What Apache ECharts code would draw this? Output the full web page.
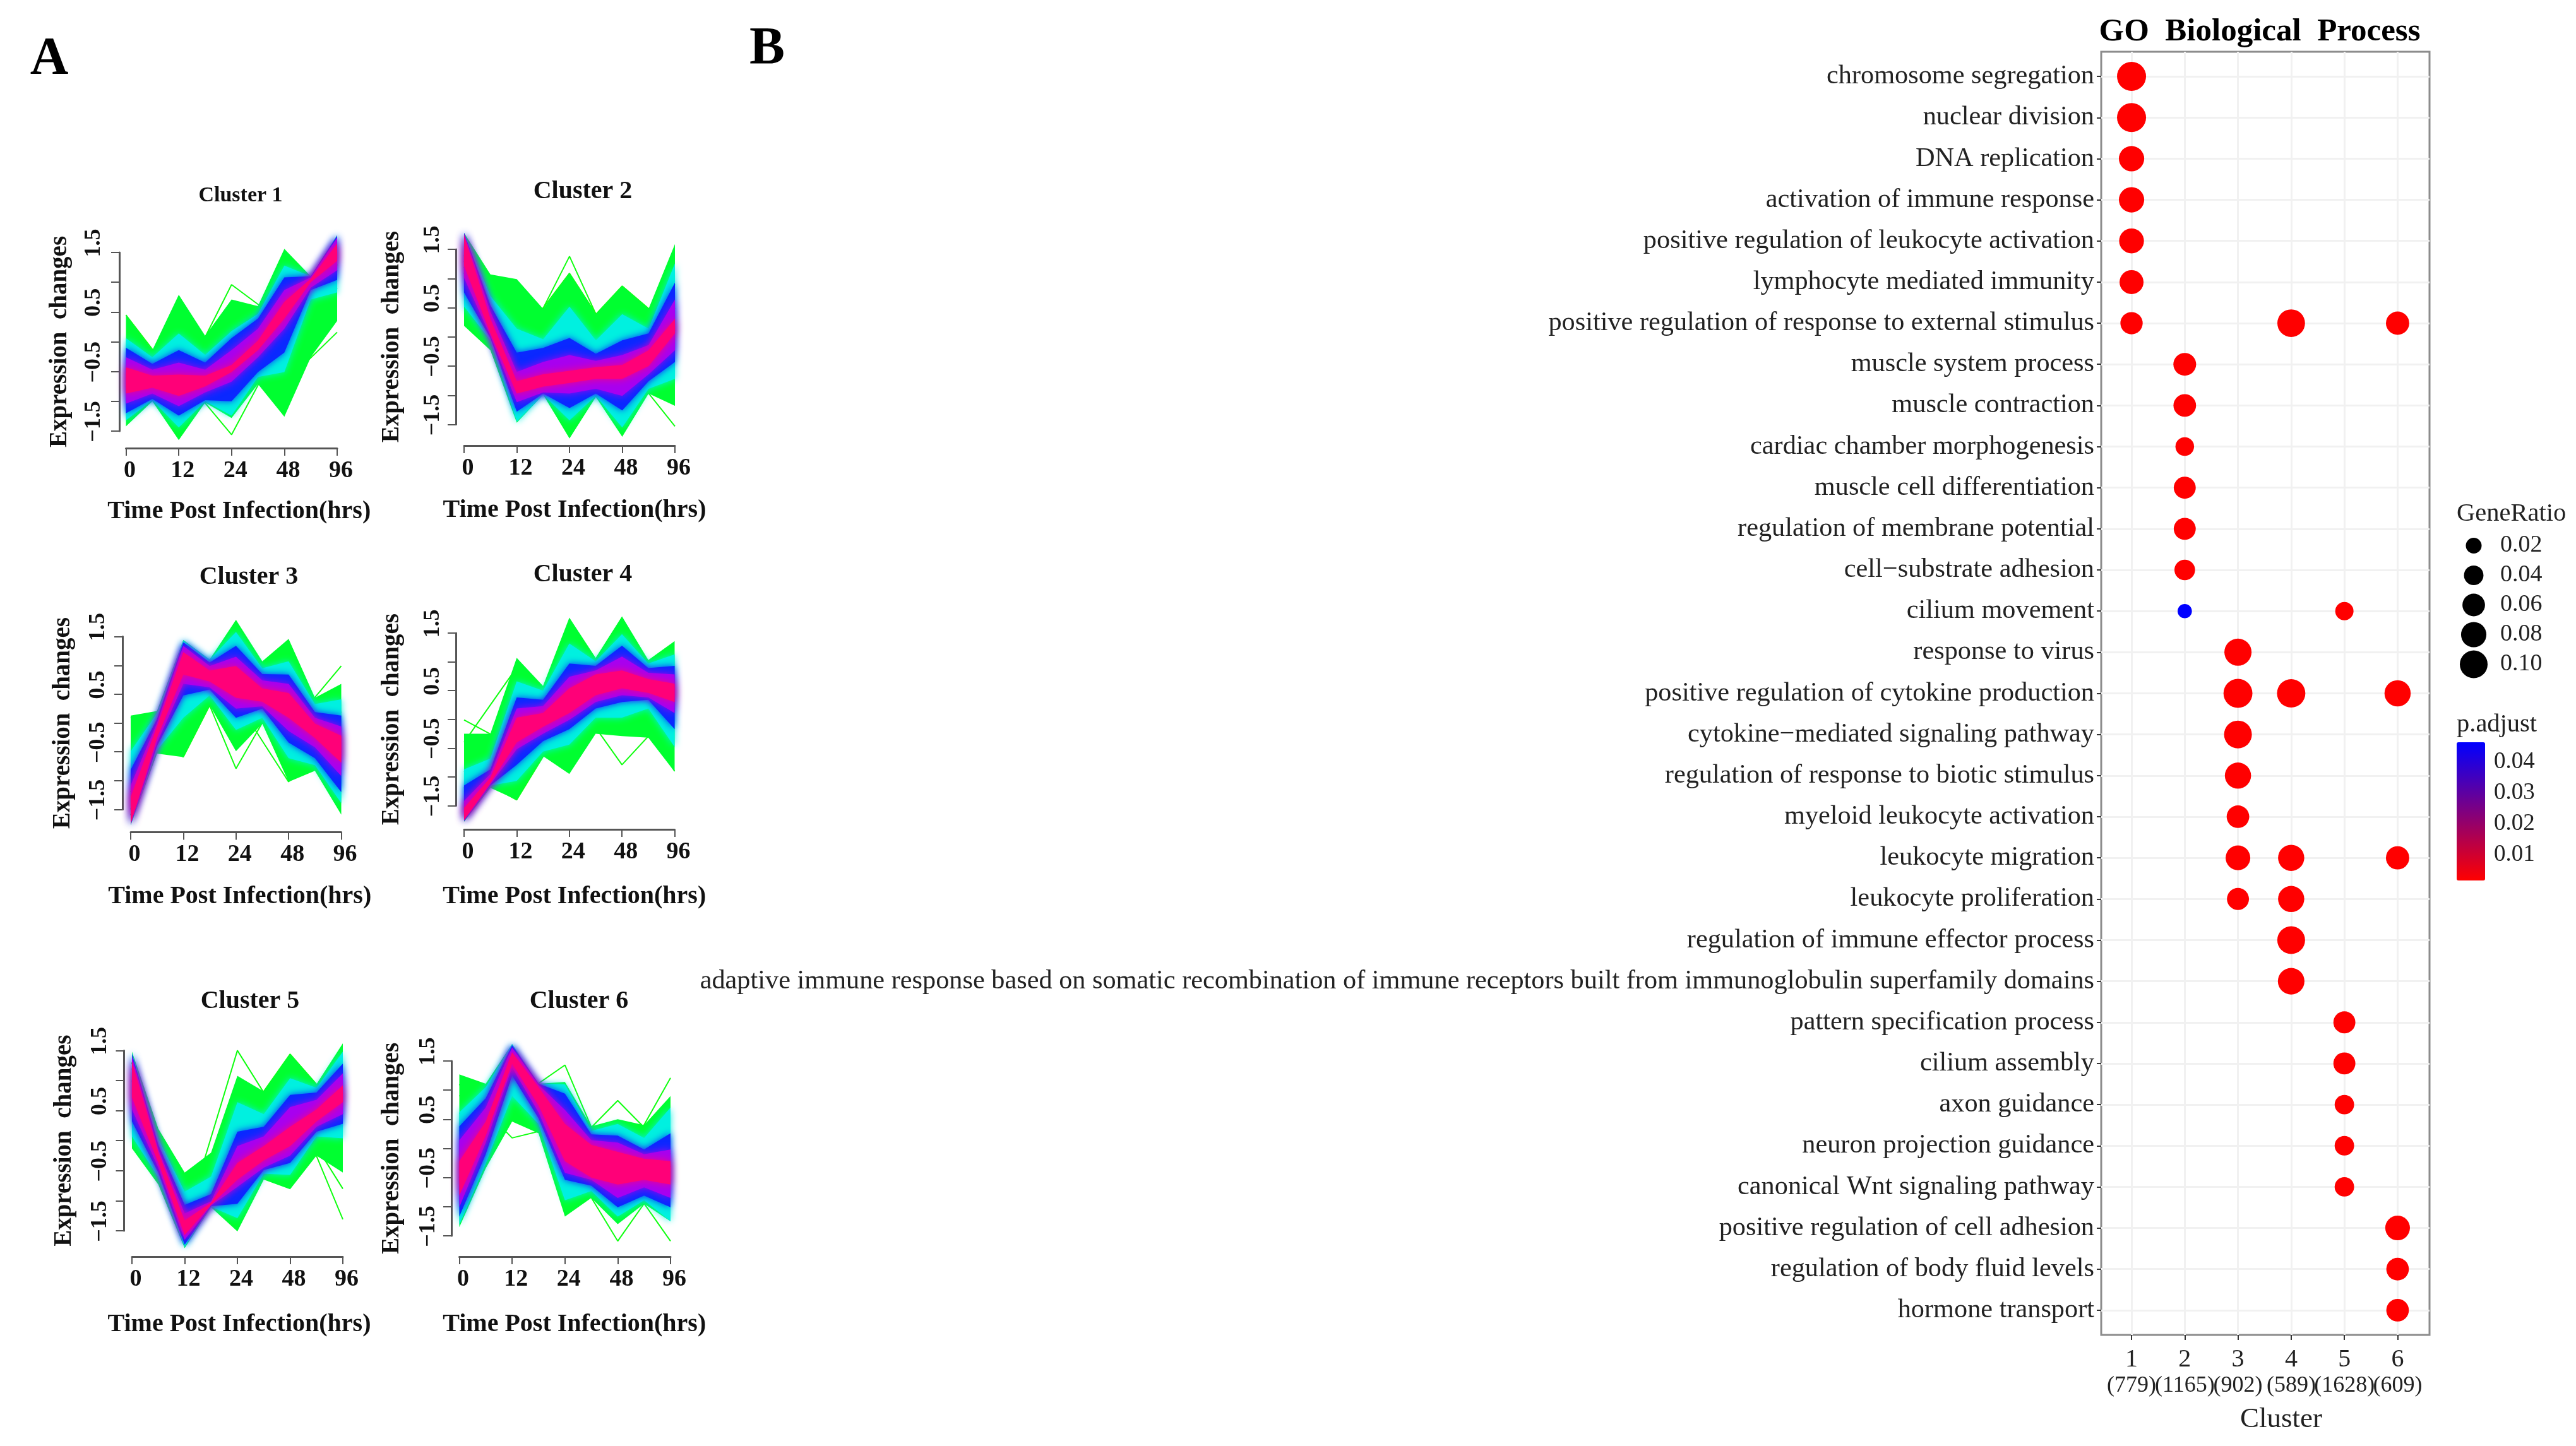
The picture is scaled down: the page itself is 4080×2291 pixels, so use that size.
<!DOCTYPE html>
<html><head><meta charset="utf-8"><style>html,body{margin:0;padding:0;background:#fff}#c{width:4080px;height:2291px}</style>
<script src="https://cdn.jsdelivr.net/npm/echarts@6/dist/echarts.min.js"></script></head><body><div id="c"></div>
<script>
const timeLabels=['0','12','24','48','96'];
// band edges, outer (green) to core (pink), sampled every half step of the time axis
const c1Upper=[[0.45,-0.14,0.79,0.10,0.71,0.60,1.56,1.10,1.79],[0.06,-0.26,0.14,-0.22,0.18,0.47,1.28,1.10,1.79],[-0.10,-0.37,-0.14,-0.35,0.06,0.39,1.08,1.10,1.78],[-0.26,-0.47,-0.35,-0.47,-0.14,0.22,0.87,1.08,1.75],[-0.43,-0.57,-0.55,-0.57,-0.39,0.02,0.67,1.06,1.65]];
const c1Lower=[[-1.42,-1.0,-1.65,-1.02,-1.28,-0.71,-1.26,-0.26,0.35],[-1.32,-0.98,-1.44,-1.0,-1.24,-0.59,-0.51,0.71,0.83],[-1.20,-0.96,-1.24,-0.98,-1.0,-0.51,-0.18,0.87,1.04],[-1.04,-0.87,-1.08,-0.85,-0.67,-0.26,0.22,0.91,1.20],[-0.87,-0.77,-0.91,-0.75,-0.51,-0.14,0.39,1.00,1.36]];
const c2Upper=[[1.78,1.07,0.99,0.48,1.09,0.39,0.87,0.48,1.59],[1.78,0.70,0.14,-0.04,0.52,-0.06,0.39,0.14,1.26],[1.78,0.54,-0.27,-0.19,-0.02,-0.29,-0.06,0.06,0.93],[1.77,0.43,-0.60,-0.43,-0.31,-0.41,-0.31,-0.14,0.64],[1.74,0.31,-0.76,-0.64,-0.58,-0.52,-0.48,-0.23,0.31]];
const c2Lower=[[0.19,-0.23,-1.47,-0.99,-1.74,-1.03,-1.71,-0.97,-1.18],[0.52,-0.06,-1.45,-0.99,-1.43,-1.01,-1.55,-0.89,-0.72],[0.76,-0.02,-1.28,-0.97,-1.22,-0.97,-1.26,-0.76,-0.43],[1.01,0.02,-1.12,-0.95,-0.97,-0.89,-1.01,-0.64,-0.23],[1.22,0.06,-0.97,-0.85,-0.79,-0.72,-0.72,-0.50,0.06]];
const c3Upper=[[0.13,0.21,1.44,1.10,1.79,1.07,1.46,0.44,0.68],[-0.49,0.17,1.43,1.10,1.58,0.95,1.07,0.33,0.41],[-0.81,0.07,1.40,1.05,1.34,0.85,0.84,0.19,0.13],[-1.08,0.0,1.34,0.99,1.15,0.74,0.68,0.09,-0.06],[-1.28,-0.06,1.23,0.91,0.99,0.60,0.52,-0.01,-0.22]];
const c3Lower=[[-1.77,-0.53,-0.59,0.31,-0.49,-0.01,-1.02,-0.83,-1.59],[-1.77,-0.47,0.09,0.48,-0.12,0.09,-0.61,-0.73,-1.39],[-1.76,-0.40,0.48,0.58,0.09,0.25,-0.34,-0.61,-1.20],[-1.75,-0.34,0.68,0.62,0.25,0.29,-0.14,-0.42,-0.92],[-1.75,-0.26,0.84,0.72,0.44,0.37,0.09,-0.26,-0.69]];
const c4Upper=[[-0.25,-0.25,1.07,0.58,1.77,1.07,1.79,1.03,1.36],[-0.87,-0.68,0.66,0.50,1.32,1.01,1.48,0.97,1.13],[-1.15,-0.87,0.38,0.34,0.97,0.93,1.28,0.89,0.93],[-1.42,-0.95,0.19,0.23,0.74,0.85,1.09,0.81,0.78],[-1.54,-1.01,0.03,0.11,0.54,0.78,0.85,0.70,0.62]];
const c4Lower=[[-1.78,-1.19,-1.40,-0.64,-0.95,-0.25,-0.29,-0.32,-0.91],[-1.77,-1.15,-1.07,-0.56,-0.44,0.03,0.03,0.19,-0.48],[-1.77,-1.15,-0.79,-0.38,-0.17,0.19,0.30,0.34,-0.17],[-1.76,-1.13,-0.52,-0.25,-0.01,0.30,0.42,0.38,0.11],[-1.75,-1.11,-0.40,-0.13,0.11,0.42,0.54,0.46,0.30]];
const c5Upper=[[1.48,0.20,-0.53,-0.20,1.08,0.82,1.44,0.94,1.62],[1.46,0.03,-0.85,-0.60,0.64,0.44,1.04,0.88,1.48],[1.44,-0.07,-1.07,-0.89,0.15,0.23,0.76,0.80,1.28],[1.40,-0.15,-1.21,-1.01,-0.09,0.07,0.56,0.68,1.12],[1.32,-0.19,-1.33,-1.03,-0.37,-0.09,0.23,0.52,0.92]];
const c5Lower=[[-0.13,-0.73,-1.79,-1.11,-1.51,-0.65,-0.81,-0.25,-0.53],[0.07,-0.61,-1.77,-1.10,-1.29,-0.55,-0.57,0.07,0.04],[0.32,-0.53,-1.73,-1.09,-1.05,-0.49,-0.37,0.15,0.28],[0.52,-0.45,-1.65,-1.08,-0.77,-0.45,-0.25,0.23,0.44],[0.72,-0.37,-1.57,-1.07,-0.65,-0.33,-0.09,0.32,0.64]];
const c6Upper=[[1.27,1.11,1.79,1.11,1.14,0.38,0.50,0.40,0.90],[0.62,1.05,1.79,1.11,1.10,0.30,0.42,0.18,0.70],[0.38,0.86,1.77,1.11,0.94,0.24,0.22,-0.02,0.26],[0.14,0.70,1.73,1.09,0.66,0.14,0.10,-0.10,-0.02],[-0.22,0.46,1.65,1.05,0.42,0.06,-0.06,-0.18,-0.22]];
const c6Lower=[[-1.35,-0.34,0.46,0.26,-1.17,-0.85,-1.30,-0.95,-1.25],[-1.31,-0.26,0.90,0.42,-0.89,-0.73,-1.17,-0.89,-1.25],[-1.17,-0.10,1.25,0.52,-0.54,-0.64,-1.01,-0.81,-1.01],[-1.01,0.10,1.39,0.62,-0.42,-0.54,-0.85,-0.67,-0.85],[-0.81,0.22,1.45,0.74,-0.22,-0.50,-0.62,-0.54,-0.62]];
// stray single profiles
const c1Strays=[[-0.6,-0.8,0.96,0.3,0.9],[-0.9,-0.5,-1.56,0.1,1.2],[-0.6,-1.0,-0.2,-0.7,0.16],[0.45,-0.7,-0.5,-0.1,1.3]];
const c2Strays=[[1.3,-0.4,1.38,-0.6,0.5],[1.4,-0.1,1.09,-0.3,0.9],[1.1,-0.8,-0.5,-0.4,-1.53],[1.2,-0.4,-0.1,0.87,0.1]];
const c3Strays=[[-1.6,1.2,0.9,-0.1,0.99],[-1.5,1.4,-0.79,0.8,-0.5],[0.1,-0.59,1.2,0.3,-0.3],[-1.2,1.0,0.4,-1.02,0.2]];
const c4Strays=[[-0.01,-0.5,0.6,0.9,0.5],[-1.2,0.3,0.5,-0.79,0.2],[-0.9,-1.4,0.1,0.5,-0.9],[-0.4,0.9,-0.9,0.6,0.4]];
const c5Strays=[[1.3,-1.4,1.5,0.1,0.4],[1.2,-1.1,0.2,1.44,0.44],[1.3,-1.4,0.0,0.8,-1.31],[1.0,-1.3,-0.5,0.6,-0.8]];
const c6Strays=[[1.1,0.18,0.4,-0.5,-0.8],[0.3,1.4,-0.1,0.82,-0.1],[-0.5,1.2,-0.6,-0.3,-1.59],[0.9,1.2,0.1,-0.4,1.21],[0.6,0.8,1.43,-0.7,-0.3],[0.3,1.3,-0.1,-1.59,-0.3]];
const clusterUpper=[c1Upper,c2Upper,c3Upper,c4Upper,c5Upper,c6Upper];
const clusterLower=[c1Lower,c2Lower,c3Lower,c4Lower,c5Lower,c6Lower];
const clusterStrays=[c1Strays,c2Strays,c3Strays,c4Strays,c5Strays,c6Strays];
const bandColors=['#00ff30','#00f0e0','#0a28ff','#a800f0','#ff0078'];
const bandBlur=[0,12,12,14,14];
const panelTitles=['Cluster 1','Cluster 2','Cluster 3','Cluster 4','Cluster 5','Cluster 6'];
const rowLabels=['chromosome segregation','nuclear division','DNA replication','activation of immune response','positive regulation of leukocyte activation','lymphocyte mediated immunity','positive regulation of response to external stimulus','muscle system process','muscle contraction','cardiac chamber morphogenesis','muscle cell differentiation','regulation of membrane potential','cell\u2212substrate adhesion','cilium movement','response to virus','positive regulation of cytokine production','cytokine\u2212mediated signaling pathway','regulation of response to biotic stimulus','myeloid leukocyte activation','leukocyte migration','leukocyte proliferation','regulation of immune effector process','adaptive immune response based on somatic recombination of immune receptors built from immunoglobulin superfamily domains','pattern specification process','cilium assembly','axon guidance','neuron projection guidance','canonical Wnt signaling pathway','positive regulation of cell adhesion','regulation of body fluid levels','hormone transport'];
const clusterTicks=[1,2,3,4,5,6];
const clusterTicksOdd=[1,3,5];
const clusterTicksEven=[2,4,6];
const clusterCounts=['(779)','(1165)','(902)','(589)','(1628)','(609)'];
// [cluster, row index, GeneRatio, p.adjust]
const dots=[[1,0,0.111,0.001],[1,1,0.111,0.001],[1,2,0.08,0.001],[1,3,0.08,0.001],[1,4,0.076,0.001],[1,5,0.07,0.001],[1,6,0.058,0.001],[4,6,0.099,0.001],[6,6,0.065,0.001],[2,7,0.061,0.001],[2,8,0.06,0.001],[2,9,0.035,0.001],[2,10,0.056,0.001],[2,11,0.056,0.001],[2,12,0.047,0.001],[2,13,0.013,0.0463],[5,13,0.033,0.001],[3,14,0.095,0.001],[3,15,0.11,0.001],[4,15,0.105,0.001],[6,15,0.087,0.001],[3,16,0.10,0.001],[3,17,0.087,0.001],[3,18,0.06,0.001],[3,19,0.075,0.001],[4,19,0.087,0.001],[6,19,0.065,0.001],[3,20,0.056,0.001],[4,20,0.087,0.001],[4,21,0.10,0.001],[4,22,0.09,0.001],[5,23,0.056,0.001],[5,24,0.056,0.001],[5,25,0.04,0.001],[5,26,0.04,0.001],[5,27,0.04,0.001],[6,28,0.075,0.001],[6,29,0.06,0.001],[6,30,0.06,0.001]];
const sizeLegendLabels=['0.02','0.04','0.06','0.08','0.10'];
const sizeLegendValues=[0.02,0.04,0.06,0.08,0.10];
const colorbarTicks=[0.01,0.02,0.03,0.04];

const F='Liberation Serif';
const layout=[
 {l:199.5,r:534,t:400,b:683,ax:10.5,xo:27,tx:381,ty:314,ts:34,nx:12,ng:81,mx:17,my:22,yn:75},
 {l:735,r:1069,t:395,b:672.5,ax:13,xo:33.5,tx:923,ty:308,ts:40,nx:8,ng:83,mx:17,my:18,yn:82},
 {l:207,r:540.5,t:1008.6,b:1282.5,ax:13,xo:36,tx:394,ty:919,ts:40,nx:6,ng:82,mx:17,my:20,yn:75},
 {l:735,r:1068.5,t:1003,b:1276.4,ax:13,xo:37.6,tx:923,ty:915,ts:40,nx:8,ng:87,mx:17,my:18,yn:82},
 {l:209,r:543,t:1664.4,b:1950,ax:12.5,xo:41,tx:396,ty:1591,ts:40,nx:3,ng:88,mx:17,my:20,yn:75},
 {l:727.5,r:1062,t:1681,b:1958,ax:12.5,xo:33,tx:917,ty:1591,ts:40,nx:15,ng:88,mx:17,my:18,yn:75}
];
const grid=[],xAxis=[],yAxis=[],series=[],title=[];
const axisColor='#555';
layout.forEach((p,i)=>{
 grid.push({left:p.l,top:p.t,width:p.r-p.l,height:p.b-p.t});
 xAxis.push({type:'value',gridIndex:i,min:0,max:4,interval:1,offset:p.xo,position:'bottom',
  axisLine:{show:true,onZero:false,lineStyle:{color:axisColor,width:3}},
  axisTick:{show:true,length:12,lineStyle:{color:axisColor,width:2}},splitLine:{show:false},
  axisLabel:{show:true,margin:p.mx,padding:[0,0,0,12],fontFamily:F,fontWeight:'bold',fontSize:38,color:'#111',formatter:v=>timeLabels[v]},
  name:'Time Post Infection(hrs)',nameLocation:'middle',nameGap:p.ng,
  nameTextStyle:{fontFamily:F,fontWeight:'bold',fontSize:40,color:'#111',padding:[0,0,0,p.nx*2]}});
 yAxis.push({type:'value',gridIndex:i,min:-1.5,max:1.5,interval:0.5,offset:p.ax,position:'left',
  axisLine:{show:true,onZero:false,lineStyle:{color:axisColor,width:3}},
  axisTick:{show:true,length:13,lineStyle:{color:axisColor,width:2}},splitLine:{show:false},
  axisLabel:{show:true,rotate:90,margin:p.my,showMinLabel:true,showMaxLabel:true,hideOverlap:false,
   rich:{t:{fontFamily:F,fontWeight:'bold',fontSize:36,color:'#111',padding:[0,0,0,30]}},
   formatter:v=>{const a=Math.abs(v);if(a===1.5||a===0.5)return '{t|'+(v<0?'\u2212':'')+a.toFixed(1)+'}';return '';}},
  name:'Expression  changes',nameLocation:'middle',nameRotate:90,nameGap:p.yn,
  nameTextStyle:{fontFamily:F,fontWeight:'bold',fontSize:39,color:'#111'}});
 const up=clusterUpper[i],lo=clusterLower[i];
 series.push({type:'custom',xAxisIndex:i,yAxisIndex:i,silent:true,z:2,data:up.map((_,k)=>[k,k]),
  renderItem:(params,api)=>{
   const k=params.dataIndex,pts=[];
   up[k].forEach((v,j)=>pts.push(api.coord([j/2,v])));
   lo[k].slice().reverse().forEach((v,j)=>pts.push(api.coord([(8-j)/2,v])));
   return {type:'polygon',shape:{points:pts},style:{fill:bandColors[k],shadowBlur:bandBlur[k],shadowColor:bandColors[k]}};
  }});
 clusterStrays[i].forEach(s=>series.push({type:'line',xAxisIndex:i,yAxisIndex:i,clip:false,z:1,silent:true,symbol:'none',
  data:s.map((v,j)=>[j,v]),lineStyle:{color:'#10ff10',width:2}}));
 title.push({text:panelTitles[i],left:p.tx,top:p.ty-p.ts*0.6,textAlign:'center',padding:0,textStyle:{fontFamily:F,fontWeight:'bold',fontSize:p.ts,color:'#111'}});
});
// dot plot
const gi=6;
const plotBox={left:3328,top:82,width:520,height:2033};
const clusterMin=0.43,clusterMax=6.6;
const clusterLabel=vals=>({show:true,customValues:vals,showMinLabel:true,showMaxLabel:true,hideOverlap:false,margin:16,formatter:v=>'{a|'+v+'}\n{b|'+clusterCounts[v-1]+'}',
  rich:{a:{fontFamily:F,fontSize:40,color:'#222',lineHeight:46,align:'center'},b:{fontFamily:F,fontSize:36,color:'#222',lineHeight:38,align:'center'}}});
grid.push(Object.assign({show:true,borderColor:'#8c8c8c',borderWidth:3,backgroundColor:'#fff'},plotBox));
const rowIdx=rowLabels.map((_,i)=>i);
xAxis.push({type:'value',gridIndex:gi,min:clusterMin,max:clusterMax,
 axisLine:{show:false,onZero:false},axisTick:{show:true,customValues:clusterTicks,length:8,lineStyle:{color:'#333',width:2}},
 splitLine:{show:true,lineStyle:{color:'#f1f1f1',width:3}},
 axisLabel:clusterLabel(clusterTicksOdd),
 name:'Cluster',nameLocation:'middle',nameGap:112,nameTextStyle:{fontFamily:F,fontSize:45,color:'#222',padding:[0,0,0,50]}});
yAxis.push({type:'value',gridIndex:gi,inverse:true,min:-0.6,max:30.6,
 axisLine:{show:false,onZero:false},axisTick:{show:true,customValues:rowIdx,length:7,lineStyle:{color:'#333',width:2}},
 splitLine:{show:true,lineStyle:{color:'#f1f1f1',width:3}},
 axisLabel:{show:true,customValues:rowIdx,showMinLabel:true,showMaxLabel:true,margin:11,padding:[0,0,5,0],fontFamily:F,fontSize:42.3,color:'#222',formatter:v=>rowLabels[v]}});
const ratioToSize=r=>Math.sqrt(625+(r-0.02)*16387);
series.push({type:'scatter',xAxisIndex:gi,yAxisIndex:gi,z:5,silent:true,data:dots,symbol:'circle',itemStyle:{opacity:1},
 symbolSize:d=>ratioToSize(d[2]),encode:{x:0,y:1}});
const dotSeriesIndex=series.length-1;
// size legend
const gs=7;
grid.push({left:3890,top:841,width:56,height:235});
xAxis.push({type:'value',gridIndex:gs,min:0,max:2,show:false});
yAxis.push({type:'category',gridIndex:gs,inverse:true,position:'right',data:sizeLegendLabels,
 axisLine:{show:false},axisTick:{show:false},splitLine:{show:false},
 axisLabel:{interval:0,margin:14,fontFamily:F,fontSize:38,color:'#222'}});
series.push({type:'scatter',xAxisIndex:gs,yAxisIndex:gs,z:5,silent:true,symbol:'circle',
 data:sizeLegendLabels.map((l,i)=>[1,l,sizeLegendValues[i]]),symbolSize:d=>ratioToSize(d[2]),itemStyle:{color:'#000',opacity:1}});
// colour bar axis
const gc=8;
grid.push({left:3891,top:1176,width:45,height:219});
xAxis.push({type:'value',gridIndex:gc,min:0,max:1,show:false});
yAxis.push({type:'value',gridIndex:gc,position:'right',min:0.0016,max:0.0463,z:6,
 axisLine:{show:false},axisTick:{show:true,customValues:colorbarTicks,inside:true,length:9,lineStyle:{color:'rgba(255,255,255,0.55)',width:2}},
 splitLine:{show:false},axisLabel:{customValues:colorbarTicks,margin:14,fontFamily:F,fontSize:37,color:'#222',formatter:v=>v.toFixed(2)}});
// second label row of the cluster axis, same box and scale, so that touching labels all stay
const ge=9;
grid.push(Object.assign({},plotBox));
xAxis.push({type:'value',gridIndex:ge,min:clusterMin,max:clusterMax,
 axisLine:{show:false,onZero:false},axisTick:{show:false},splitLine:{show:false},axisLabel:clusterLabel(clusterTicksEven)});
yAxis.push({type:'value',gridIndex:ge,min:0,max:1,show:false});
const texts=[['A',78,104,84,'bold','center'],['B',1215,88,84,'bold','center'],['GO  Biological  Process',3579,56,51,'bold','center'],['GeneRatio',3891,818,40.5,'normal','left'],['p.adjust',3891,1152,40.5,'normal','left']];
texts.forEach(t=>title.push({text:t[0],left:t[1],top:t[2]-t[3]*0.6,textAlign:t[5],padding:0,textStyle:{fontFamily:F,fontSize:t[3],fontWeight:t[4],color:t[4]==='bold'?'#000':'#222'}}));
const chart=echarts.init(document.getElementById('c'),null,{renderer:'canvas'});
chart.setOption({animation:false,backgroundColor:'#fff',title,grid,xAxis,yAxis,series,tooltip:{show:false},
 visualMap:{type:'continuous',show:true,dimension:3,seriesIndex:dotSeriesIndex,min:0.0016,max:0.0463,inRange:{color:['#ff0000','#0000ff']},
  left:3891,top:1176,itemWidth:45,itemHeight:219,padding:0,calculable:false,text:null,showLabel:false,z:1,textStyle:{fontSize:1,color:'#fff'},hoverLink:false,silent:true}});
</script></body></html>
